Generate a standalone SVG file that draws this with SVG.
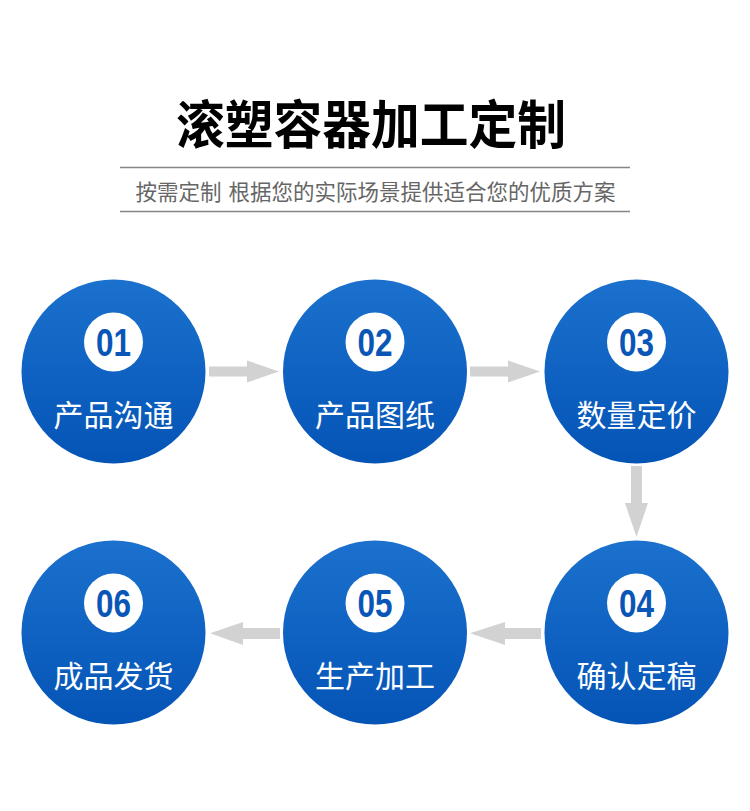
<svg xmlns="http://www.w3.org/2000/svg" width="750" height="811" viewBox="0 0 750 811">
<defs>
<linearGradient id="g" x1="0" y1="0" x2="0" y2="1">
<stop offset="0" stop-color="#1b71cd"/>
<stop offset="1" stop-color="#0454b6"/>
</linearGradient>
<style>
.c{fill:url(#g)}
.w{fill:#fff}
.n{font-family:"Liberation Sans",Arial,sans-serif;font-weight:bold;font-size:38px;fill:#0a56b7;text-anchor:middle}
.l{font-family:"Noto Sans CJK SC","Noto Sans",sans-serif;font-size:30px;fill:#fff;text-anchor:middle}
.a{fill:#d2d2d2}
.t{font-family:"Noto Sans CJK SC",sans-serif;font-weight:bold;font-size:52px;fill:#000}
.s{font-family:"Noto Sans CJK SC",sans-serif;font-size:21.5px;fill:#666}
</style>
</defs>
<rect width="750" height="811" fill="#fff"/>
<text class="t" x="176" y="144" textLength="390" lengthAdjust="spacingAndGlyphs">滚塑容器加工定制</text>
<line x1="120" y1="167.5" x2="630" y2="167.5" stroke="#858585" stroke-width="1.5"/>
<text class="s" y="200"><tspan x="135.5">按需定制</tspan><tspan x="228.5"> </tspan><tspan x="228.5">根据您的实际场景提供适合您的优质方案</tspan></text>
<line x1="120" y1="211.5" x2="630" y2="211.5" stroke="#858585" stroke-width="1.5"/>
<g id="connectors">
<polygon class="a" points="209,366.5 247,366.5 247,360.5 279,371.5 247,382.5 247,376.5 209,376.5"/>
<polygon class="a" points="470,366.5 508,366.5 508,360.5 540,371.5 508,382.5 508,376.5 470,376.5"/>
<polygon class="a" points="631,466 642,466 642,503 648,503 636.5,537 625,503 631,503"/>
<polygon class="a" points="541,628 505,628 505,622 470,633.3 505,645 505,639 541,639"/>
<polygon class="a" points="280,628 243,628 243,622 210,633.3 243,645 243,639 280,639"/>
</g>
<g id="n1">
<circle class="c" cx="113.5" cy="371.5" r="92"/>
<circle class="w" cx="113.5" cy="342" r="29.5"/>
<text class="n" x="113.5" y="355.5" textLength="35" lengthAdjust="spacingAndGlyphs">01</text>
<text class="l" x="113.5" y="426">产品沟通</text>
</g>
<g id="n2">
<circle class="c" cx="375" cy="371.5" r="92"/>
<circle class="w" cx="375" cy="342" r="29.5"/>
<text class="n" x="375" y="355.5" textLength="35" lengthAdjust="spacingAndGlyphs">02</text>
<text class="l" x="375" y="426">产品图纸</text>
</g>
<g id="n3">
<circle class="c" cx="636.5" cy="371.5" r="92"/>
<circle class="w" cx="636.5" cy="342" r="29.5"/>
<text class="n" x="636.5" y="355.5" textLength="35" lengthAdjust="spacingAndGlyphs">03</text>
<text class="l" x="636.5" y="426">数量定价</text>
</g>
<g id="n4">
<circle class="c" cx="636.5" cy="632.5" r="92"/>
<circle class="w" cx="636.5" cy="603" r="29.5"/>
<text class="n" x="636.5" y="616.5" textLength="35" lengthAdjust="spacingAndGlyphs">04</text>
<text class="l" x="636.5" y="687">确认定稿</text>
</g>
<g id="n5">
<circle class="c" cx="375" cy="632.5" r="92"/>
<circle class="w" cx="375" cy="603" r="29.5"/>
<text class="n" x="375" y="616.5" textLength="35" lengthAdjust="spacingAndGlyphs">05</text>
<text class="l" x="375" y="687">生产加工</text>
</g>
<g id="n6">
<circle class="c" cx="113.5" cy="632.5" r="92"/>
<circle class="w" cx="113.5" cy="603" r="29.5"/>
<text class="n" x="113.5" y="616.5" textLength="35" lengthAdjust="spacingAndGlyphs">06</text>
<text class="l" x="113.5" y="687">成品发货</text>
</g>
</svg>
